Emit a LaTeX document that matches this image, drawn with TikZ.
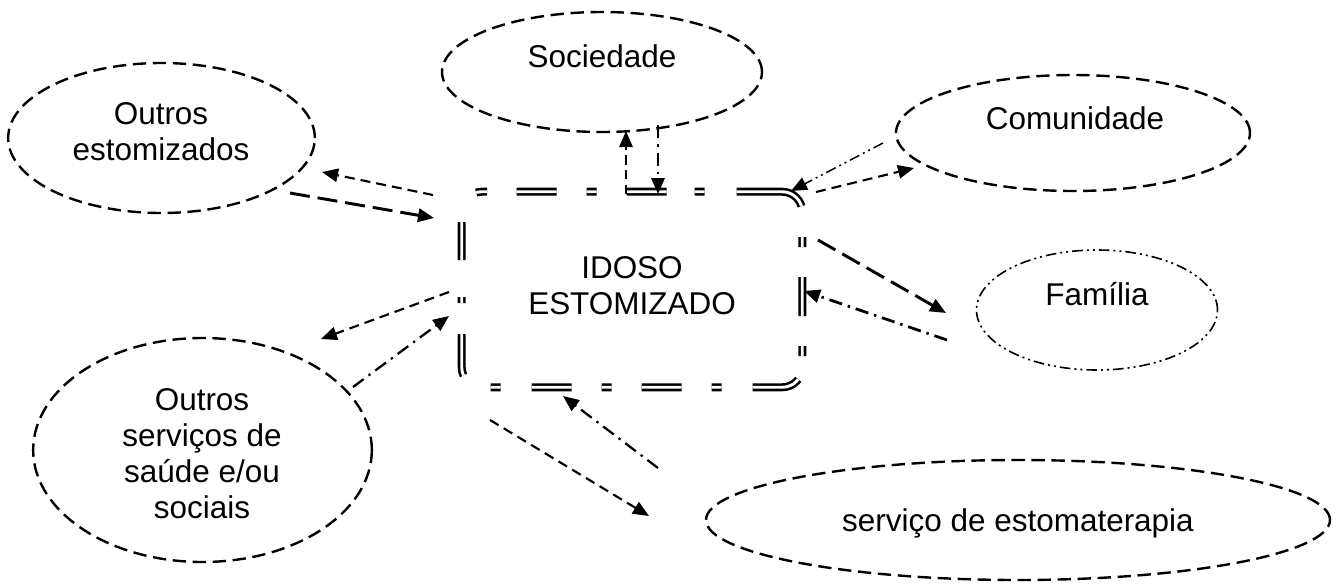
\documentclass[tikz,border=0pt]{standalone}
\usepackage{fontspec}
\setmainfont{Liberation Sans}
\usetikzlibrary{shapes.geometric,arrows.meta}
\begin{document}
\begin{tikzpicture}[x=0.75pt,y=-0.75pt,
  ell/.style={ellipse, draw, line width=1.8pt, dash pattern=on 10pt off 5pt, inner sep=0pt},
  lbl/.style={align=center, inner sep=0pt, font=\fontsize{23.6}{27}\selectfont},
  tipa/.style={-{Triangle[length=12pt,width=10pt]}},
  dsh/.style={tipa, line width=1.6pt, dash pattern=on 7.5pt off 4.5pt},
  ldsh/.style={tipa, line width=2.2pt, dash pattern=on 15pt off 6pt},
  ddot/.style={tipa, line width=1.7pt, dash pattern=on 10pt off 4.5pt on 1.8pt off 4.5pt},
  dddot/.style={tipa, line width=1.1pt, dash pattern=on 8pt off 3pt on 1.5pt off 3pt on 1.5pt off 3pt},
  boxline/.style={rounded corners=15pt, double, double distance=2.2pt, line width=1.9pt,
    dash pattern=on 0pt off 5.25pt on 4.5pt off 27.75pt on 28.5pt off 27pt on 8.25pt off 22.05pt
    on 30pt off 22.5pt on 7.5pt off 22.5pt on 30pt off 21pt on 7.5pt off 24pt
    on 53.7pt off 23.1pt on 7.5pt off 22.5pt on 29.25pt off 22.5pt on 7.5pt off 18.15pt
    on 36.15pt off 23.25pt on 7.5pt off 22.5pt on 30pt off 22.5pt on 7.5pt off 22.5pt
    on 30pt off 23.1pt on 7.5pt off 24pt on 31.2pt off 30pt},
]
\useasboundingbox (0,0) rectangle (1340,583);

% central box
\node[minimum width=255pt, minimum height=146.25pt, inner sep=0pt] (box) at (632,289.5) {};
\node[lbl] (boxT) at (632,286) {IDOSO\\ESTOMIZADO};
\draw[boxline] (box.west) ++(0,40.5) -- (box.north west) -- (box.north east)
      -- (box.south east) -- (box.south west) -- cycle;

% ellipses
\node[ell, minimum width=240pt, minimum height=90pt] (soc) at (602,72) {};
\node[lbl, anchor=base] (socT) at (602,67) {Sociedade};

\node[ell, minimum width=265.5pt, minimum height=87pt] (com) at (1073,133) {};
\node[lbl, anchor=base] (comT) at (1075,129) {Comunidade};

\node[ellipse, draw, line width=1.2pt, dash pattern=on 8pt off 3pt on 1.5pt off 3pt on 1.5pt off 3pt, inner sep=0pt,
      minimum width=180.75pt, minimum height=90pt] (fam) at (1097,310) {};
\node[lbl, anchor=base] (famT) at (1097,305) {Família};

\node[ell, minimum width=230pt, minimum height=112.5pt] (oe) at (161.5,138) {};
\node[lbl, anchor=base] (oeT) at (161,160) {Outros\\estomizados};

\node[ell, minimum width=254pt, minimum height=168pt] (os) at (202.5,450) {};
\node[lbl, anchor=base] (osT) at (202,518) {Outros\\serviços de\\saúde e/ou\\sociais};

\node[ell, minimum width=468pt, minimum height=90pt] (est) at (1018,520) {};
\node[lbl, anchor=base] (estT) at (1018,531) {serviço de estomaterapia};

% arrow end points
\coordinate (a1s) at (433,195);  \coordinate (a1e) at (322,172);
\coordinate (a2s) at (290,193);  \coordinate (a2e) at (434,218);
\coordinate (a3s) at (449,292);  \coordinate (a3e) at (321,339);
\coordinate (a4s) at (353,387);  \coordinate (a4e) at (449,316);
\coordinate (a5s) at (626,194);  \coordinate (a5e) at (626,131);
\coordinate (a6s) at (658,125);  \coordinate (a6e) at (658,194);
\coordinate (a7s) at (883,143);  \coordinate (a7e) at (791,191);
\coordinate (a8s) at (816,192);  \coordinate (a8e) at (914,168);
\coordinate (a9s) at (818,240);  \coordinate (a9e) at (946,313);
\coordinate (a10s) at (947,340); \coordinate (a10e) at (804,291);
\coordinate (a11s) at (490,420); \coordinate (a11e) at (649,516);
\coordinate (a12s) at (658,468); \coordinate (a12e) at (563,396);

\draw[dsh]   (a1s) -- (a1e);
\draw[ldsh]  (a2s) -- (a2e);
\draw[dsh]   (a3s) -- (a3e);
\draw[ddot]  (a4s) -- (a4e);
\draw[tipa, line width=1.3pt, dash pattern=on 7pt off 4pt] (a5s) -- (a5e);
\draw[ddot]  (a6s) -- (a6e);
\draw[dddot] (a7s) -- (a7e);
\draw[dsh]   (a8s) -- (a8e);
\draw[ldsh]  (a9s) -- (a9e);
\draw[ddot, line width=2.1pt]  (a10s) -- (a10e);
\draw[dsh]   (a11s) -- (a11e);
\draw[ddot]  (a12s) -- (a12e);
\end{tikzpicture}
\end{document}
